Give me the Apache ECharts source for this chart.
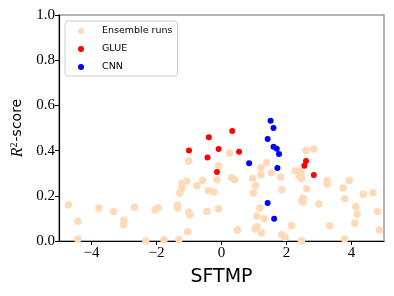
<!DOCTYPE html>
<html>
<head>
<meta charset="utf-8">
<script src="https://cdn.jsdelivr.net/npm/echarts@6/dist/echarts.min.js"></script>
<style>html,body{margin:0;padding:0;background:#fff}#c{width:394px;height:296px}</style>
</head>
<body>
<div id="c"></div>
<script>
// ---- data ----
var ensembleRuns = [
  [-4.71,0.159],[-4.42,0.087],[-4.42,0.009],[-3.77,0.146],[-3.32,0.131],[-3.00,0.092],[-3.02,0.072],
  [-2.68,0.149],[-2.33,0.000],[-2.04,0.137],[-1.95,0.147],[-1.77,0.006],[-1.35,0.158],[-1.35,0.146],
  [-1.31,0.007],[-1.28,0.211],[-1.22,0.255],[-1.22,0.233],[-1.07,0.265],[-1.01,0.354],[-1.01,0.127],
  [-0.97,0.116],[-1.04,0.041],[-0.76,0.245],[0.25,0.388],[-0.09,0.333],[-0.58,0.268],[-0.41,0.224],
  [-0.24,0.217],[-0.14,0.271],[0.31,0.280],[0.41,0.271],[-0.45,0.131],[-0.09,0.143],[0.49,0.049],
  [2.60,0.400],[2.84,0.407],[1.39,0.346],[1.21,0.324],[1.53,0.302],[1.21,0.293],[0.96,0.276],
  [1.82,0.282],[1.05,0.245],[0.98,0.212],[1.86,0.227],[2.26,0.311],[2.44,0.300],[2.46,0.276],
  [2.39,0.289],[2.62,0.231],[2.51,0.189],[2.47,0.178],[2.51,0.171],[1.18,0.146],[1.09,0.111],
  [1.31,0.099],[2.16,0.069],[1.09,0.063],[1.03,0.053],[1.23,0.037],[1.85,0.028],[1.96,0.016],
  [2.46,0.000],[3.25,0.267],[3.25,0.252],[3.93,0.268],[3.74,0.235],[4.36,0.207],[4.66,0.214],
  [3.79,0.187],[2.99,0.164],[4.13,0.153],[4.17,0.121],[4.80,0.130],[4.10,0.078],[3.33,0.068],
  [4.86,0.049],[3.79,0.009],[2.44,0.307]
];
var gluePoints = [
  [-1.00,0.400],[-0.39,0.459],[-0.09,0.407],[-0.43,0.369],[0.33,0.487],
  [0.54,0.395],[-0.14,0.305],[2.60,0.354],[2.55,0.333],[2.84,0.292]
];
var cnnPoints = [
  [1.51,0.532],[1.60,0.500],[1.42,0.451],[1.60,0.417],[1.70,0.408],
  [1.77,0.385],[0.85,0.344],[1.72,0.323],[1.42,0.168],[1.62,0.099]
];
var seriesNames = ['Ensemble runs','GLUE','CNN'];
var xTicks = [-4,-2,0,2,4];
var yTicks = [0,0.2,0.4,0.6,0.8,1.0];

var chart = echarts.init(document.getElementById('c'), null, {renderer:'canvas'});
var serif = 'Liberation Serif';
var sans = 'DejaVu Sans';
var option = {
  animation: false,
  backgroundColor: '#fff',
  grid: {left:59, top:15, right:10, bottom:55, show:true, borderColor:'#9a9a9a', borderWidth:1.5, backgroundColor:'transparent'},
  legend: {
    orient:'vertical', left:65, top:21,
    data: seriesNames,
    icon:'circle', itemWidth:6, itemHeight:6, itemGap:7,
    padding:[4.5,5,3.5,13],
    backgroundColor:'#fff', borderColor:'#cccccc', borderWidth:1, borderRadius:3,
    textStyle:{fontFamily:sans, fontSize:9.5, color:'#000', lineHeight:11, padding:[0,0,0,13]}
  },
  xAxis: {
    type:'value', min:-5, max:5,
    name:'SFTMP', nameLocation:'middle', nameGap:27,
    nameTextStyle:{fontFamily:sans, fontSize:19, color:'#000'},
    axisLine:{show:true, onZero:false, lineStyle:{color:'#000', width:1.2}},
    axisTick:{show:true, length:4, customValues:xTicks, lineStyle:{color:'#000', width:1}},
    axisLabel:{customValues:xTicks, fontFamily:serif, fontSize:15, color:'#000', margin:5,
      formatter:function(v){return v<0?'\u2212'+Math.abs(v):String(v);}},
    splitLine:{show:false}
  },
  yAxis: {
    type:'value', min:0, max:1, interval:0.2,
    name:'{r|R}{sup|2}{s|-score}', nameLocation:'middle', nameGap:32, nameRotate:90,
    nameTextStyle:{
      rich:{
        r:{fontFamily:serif, fontStyle:'italic', fontSize:16, color:'#000'},
        sup:{fontFamily:serif, fontSize:10, color:'#000', verticalAlign:'top', padding:[0,1,6,0]},
        s:{fontFamily:sans, fontSize:14, color:'#000'}
      }
    },
    axisLine:{show:true, onZero:false, lineStyle:{color:'#000', width:1.2}},
    axisTick:{show:true, length:4, lineStyle:{color:'#000', width:1}},
    axisLabel:{fontFamily:serif, fontSize:15, color:'#000', margin:4,
      formatter:function(v){return v.toFixed(1);}},
    splitLine:{show:false}
  },
  series: [
    {name:seriesNames[0], type:'scatter', data:ensembleRuns, symbolSize:7.5, z:2,
     itemStyle:{color:'#ffdab9', opacity:1}},
    {name:seriesNames[1], type:'scatter', data:gluePoints, symbolSize:6, z:3,
     itemStyle:{color:'#ff0000', opacity:1}},
    {name:seriesNames[2], type:'scatter', data:cnnPoints, symbolSize:6, z:4,
     itemStyle:{color:'#0000ff', opacity:1}}
  ]
};
chart.setOption(option);
</script>
</body>
</html>
